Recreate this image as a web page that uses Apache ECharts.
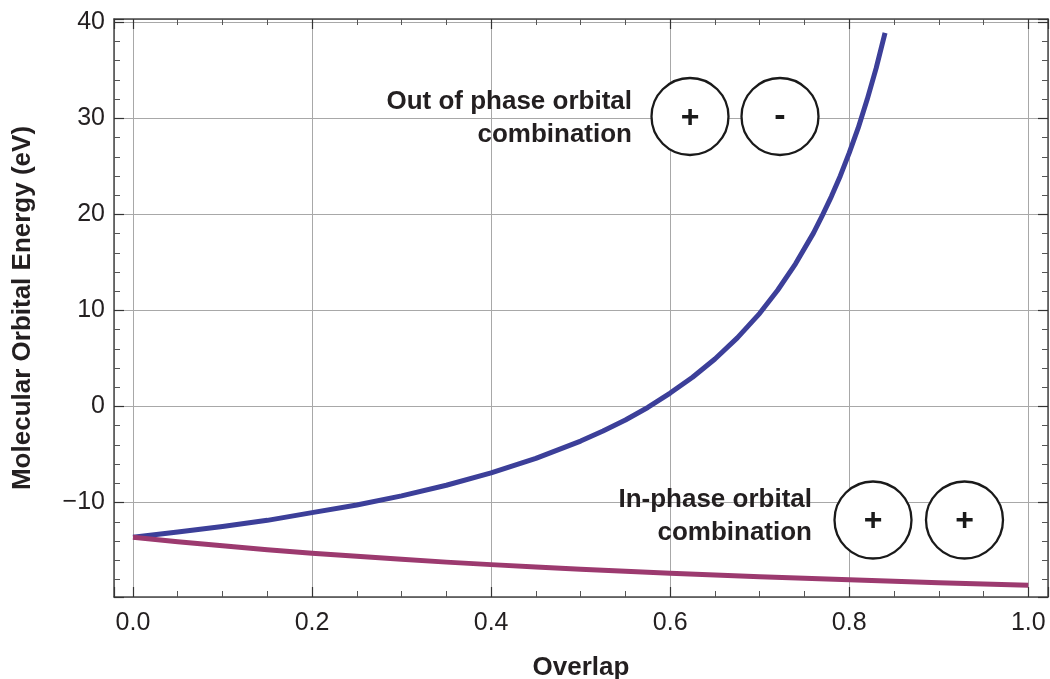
<!DOCTYPE html>
<html lang="en">
<head>
    <meta charset="UTF-8">
    <title>Molecular Orbital Energy</title>
    <script src="https://cdn.jsdelivr.net/npm/echarts@6/dist/echarts.min.js"></script>
    <style>
        html, body { margin: 0; padding: 0; background: #fff; }
    </style>
</head>
<body>
    <div id="graph" style="width: 1050px; height: 679px;"></div>

    <script>
        // values: overlap S and orbital energy (eV)
        var outOfPhaseS = [0, 0.05, 0.1, 0.15, 0.2, 0.25, 0.3, 0.35, 0.4, 0.45, 0.5, 0.525, 0.55, 0.575, 0.6, 0.625, 0.65, 0.675, 0.7, 0.72, 0.74, 0.76, 0.77, 0.78, 0.79, 0.8, 0.81, 0.82, 0.83, 0.84];
        var outOfPhaseE = [-13.6, -13.07, -12.5, -11.85, -11.05, -10.25, -9.3, -8.2, -6.9, -5.4, -3.6, -2.55, -1.4, -0.1, 1.4, 3.05, 4.95, 7.15, 9.7, 12.1, 14.85, 18.05, 19.9, 21.85, 24.0, 26.4, 29.0, 31.95, 35.2, 38.9];
        var inPhaseS = [0, 0.05, 0.1, 0.15, 0.2, 0.25, 0.3, 0.35, 0.4, 0.45, 0.5, 0.55, 0.6, 0.65, 0.7, 0.75, 0.8, 0.85, 0.9, 0.95, 1.0];
        var inPhaseE = [-13.6, -14.07, -14.5, -14.9, -15.27, -15.6, -15.9, -16.2, -16.46, -16.7, -16.93, -17.15, -17.35, -17.55, -17.72, -17.89, -18.04, -18.19, -18.34, -18.47, -18.6];

        var xTickValues = [0, 0.2, 0.4, 0.6, 0.8, 1.0];
        var xTickLabels = ['0.0', '0.2', '0.4', '0.6', '0.8', '1.0'];
        var yTickValues = [-10, 0, 10, 20, 30, 40];
        var yTickLabels = ['\u221210', '0', '10', '20', '30', '40'];

        function pickLabel(values, labels) {
            return function (v) {
                for (var i = 0; i < values.length; i++) {
                    if (Math.abs(values[i] - v) < 1e-6) return labels[i];
                }
                return '';
            };
        }

        var font = '"Liberation Sans", Arial, Helvetica, sans-serif';
        var frameColor = '#4a4a4a';
        var gridColor = '#a8a8a8';
        var textColor = '#231f20';

        var xRange = [-0.0212, 1.022];
        var yRange = [-19.83, 40.34];

        function frameAxis(pos, range, minor, extra) {
            var a = {
                type: 'value',
                position: pos,
                min: range[0],
                max: range[1],
                axisLine: { show: true, onZero: false, lineStyle: { color: frameColor, width: 1.5 } },
                axisTick: { show: true, inside: true, length: 10, lineStyle: { color: '#333', width: 1.2 } },
                minorTick: { show: true, splitNumber: minor, length: 6, lineStyle: { color: '#555', width: 1 } },
                axisLabel: { show: false },
                splitLine: { show: false }
            };
            for (var k in extra) a[k] = extra[k];
            return a;
        }

        var myChart = echarts.init(document.getElementById('graph'), null, { renderer: 'canvas' });

        var option = {
            animation: false,
            backgroundColor: '#fff',
            grid: { left: 114, right: 2, top: 19, bottom: 82, containLabel: false, outerBoundsMode: 'none' },
            xAxis: [
                frameAxis('bottom', xRange, 4, {
                    minInterval: 0.2, maxInterval: 0.2,
                    name: 'Overlap',
                    nameLocation: 'middle',
                    nameGap: 58,
                    nameTextStyle: { fontFamily: font, fontWeight: 'bold', fontSize: 26, color: textColor },
                    axisLabel: {
                        show: true, margin: 14, fontFamily: font, fontSize: 25, color: textColor,
                        formatter: pickLabel(xTickValues, xTickLabels)
                    },
                    splitLine: { show: true, lineStyle: { color: gridColor, width: 1 } }
                }),
                frameAxis('top', xRange, 4, { minInterval: 0.2, maxInterval: 0.2 })
            ],
            yAxis: [
                frameAxis('left', yRange, 5, {
                    minInterval: 10, maxInterval: 10,
                    name: 'Molecular Orbital Energy (eV)',
                    nameLocation: 'middle',
                    nameGap: 78,
                    nameTextStyle: { fontFamily: font, fontWeight: 'bold', fontSize: 26, color: textColor },
                    axisLabel: {
                        show: true, margin: 9, fontFamily: font, fontSize: 25, color: textColor,
                        formatter: pickLabel(yTickValues, yTickLabels)
                    },
                    splitLine: { show: true, lineStyle: { color: gridColor, width: 1 } }
                }),
                frameAxis('right', yRange, 5, { minInterval: 10, maxInterval: 10 })
            ],
            series: [
                {
                    name: 'Out of phase',
                    type: 'line',
                    xAxisIndex: 0,
                    yAxisIndex: 0,
                    showSymbol: false,
                    lineStyle: { color: '#3c3f99', width: 5, join: 'round', cap: 'butt' },
                    data: outOfPhaseS.map(function (s, i) { return [s, outOfPhaseE[i]]; })
                },
                {
                    name: 'In phase',
                    type: 'line',
                    xAxisIndex: 0,
                    yAxisIndex: 0,
                    showSymbol: false,
                    lineStyle: { color: '#9c3a6f', width: 5, join: 'round', cap: 'butt' },
                    data: inPhaseS.map(function (s, i) { return [s, inPhaseE[i]]; })
                }
            ],
            graphic: [
                {
                    type: 'text', z: 100, x: 632, y: 118,
                    style: {
                        text: 'Out of phase orbital\ncombination', align: 'right', verticalAlign: 'middle',
                        font: 'bold 26px ' + font, lineHeight: 33, fill: textColor
                    }
                },
                { type: 'circle', z: 100, shape: { cx: 690, cy: 116.5, r: 38.5 }, style: { fill: '#fff', stroke: '#1a1a1a', lineWidth: 2.3 } },
                { type: 'circle', z: 100, shape: { cx: 780, cy: 116.5, r: 38.5 }, style: { fill: '#fff', stroke: '#1a1a1a', lineWidth: 2.3 } },
                { type: 'text', z: 101, x: 690, y: 118, style: { text: '+', align: 'center', verticalAlign: 'middle', font: 'bold 32px ' + font, fill: '#1a1a1a' } },
                { type: 'text', z: 101, x: 780, y: 117, style: { text: '-', align: 'center', verticalAlign: 'middle', font: 'bold 34px ' + font, fill: '#1a1a1a' } },
                {
                    type: 'text', z: 100, x: 812, y: 516,
                    style: {
                        text: 'In-phase orbital\ncombination', align: 'right', verticalAlign: 'middle',
                        font: 'bold 26px ' + font, lineHeight: 33, fill: textColor
                    }
                },
                { type: 'circle', z: 100, shape: { cx: 873, cy: 520, r: 38.5 }, style: { fill: '#fff', stroke: '#1a1a1a', lineWidth: 2.3 } },
                { type: 'circle', z: 100, shape: { cx: 964.5, cy: 520, r: 38.5 }, style: { fill: '#fff', stroke: '#1a1a1a', lineWidth: 2.3 } },
                { type: 'text', z: 101, x: 873, y: 521.5, style: { text: '+', align: 'center', verticalAlign: 'middle', font: 'bold 32px ' + font, fill: '#1a1a1a' } },
                { type: 'text', z: 101, x: 964.5, y: 521.5, style: { text: '+', align: 'center', verticalAlign: 'middle', font: 'bold 32px ' + font, fill: '#1a1a1a' } }
            ]
        };
        myChart.setOption(option);
    </script>
</body>
</html>
